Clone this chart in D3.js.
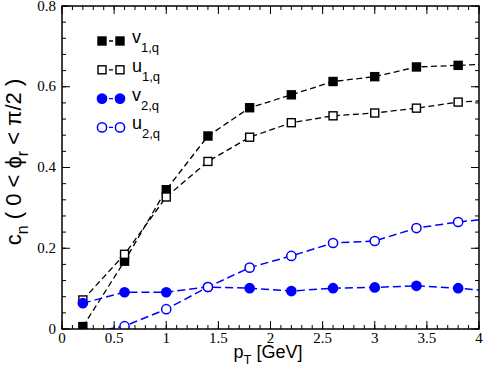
<!DOCTYPE html>
<html>
<head>
<meta charset="utf-8">
<script src="https://cdn.jsdelivr.net/npm/d3@7"></script>
<style>
  body { margin: 0; background: #fff; }
  svg { display: block; }
</style>
</head>
<body>
<div id="chart"></div>
<script>
// pT bins (last one sits outside the frame, so lines run off the right edge)
const pT = [0.2, 0.6, 1.0, 1.4, 1.8, 2.2, 2.6, 3.0, 3.4, 3.8, 4.2];

const v1q = [0.006, 0.168, 0.345, 0.478, 0.548, 0.580, 0.613, 0.625, 0.649, 0.653, 0.657];
const u1q = [0.072, 0.185, 0.327, 0.415, 0.475, 0.511, 0.528, 0.535, 0.547, 0.562, 0.568];
const v2q = [0.064, 0.091, 0.091, 0.104, 0.101, 0.094, 0.101, 0.103, 0.107, 0.101, 0.092];
const u2q = [-0.012, 0.007, 0.049, 0.104, 0.152, 0.181, 0.213, 0.218, 0.250, 0.265, 0.276];

const xTicks = [0, 0.5, 1, 1.5, 2, 2.5, 3, 3.5, 4];
const xTickLabels = ["0", "0.5", "1", "1.5", "2", "2.5", "3", "3.5", "4"];
const yTicks = [0, 0.2, 0.4, 0.6, 0.8];
const yTickLabels = ["0", "0.2", "0.4", "0.6", "0.8"];

const series = [
  { name: "v", sub: "1,q", values: v1q, color: "#000", shape: "square", filled: true },
  { name: "u", sub: "1,q", values: u1q, color: "#000", shape: "square", filled: false },
  { name: "v", sub: "2,q", values: v2q, color: "#0000ff", shape: "circle", filled: true },
  { name: "u", sub: "2,q", values: u2q, color: "#0000ff", shape: "circle", filled: false }
];

const width = 485, height = 374;
const margin = { top: 6, right: 6, bottom: 45, left: 62 };
const iw = width - margin.left - margin.right;
const ih = height - margin.top - margin.bottom;

const x = d3.scaleLinear().domain([0, 4]).range([0, iw]);
const y = d3.scaleLinear().domain([0, 0.8]).range([ih, 0]);

const svg = d3.select("#chart").append("svg")
  .attr("width", width).attr("height", height);

const g = svg.append("g").attr("transform", `translate(${margin.left},${margin.top})`);

svg.append("defs").append("clipPath").attr("id", "plotclip")
  .append("rect").attr("width", iw).attr("height", ih);

// ticks, inward, on all four sides
const xMinor = d3.range(0, 4.0001, 0.1);
const yMinor = d3.range(0, 0.8001, 0.04);

function tickLines(sel, vals, scale, len, horiz) {
  vals.forEach(v => {
    const p = scale(v);
    if (horiz) {
      sel.append("line").attr("x1", p).attr("x2", p).attr("y1", ih).attr("y2", ih - len);
      sel.append("line").attr("x1", p).attr("x2", p).attr("y1", 0).attr("y2", len);
    } else {
      sel.append("line").attr("y1", p).attr("y2", p).attr("x1", 0).attr("x2", len);
      sel.append("line").attr("y1", p).attr("y2", p).attr("x1", iw).attr("x2", iw - len);
    }
  });
}
const ticks = g.append("g").attr("stroke", "#000").attr("stroke-width", 1);
tickLines(ticks, xMinor, x, 4, true);
tickLines(ticks, xTicks, x, 8, true);
tickLines(ticks, yMinor, y, 4, false);
tickLines(ticks, yTicks, y, 8, false);

// tick labels
g.append("g").selectAll("text").data(xTicks).join("text")
  .attr("x", d => x(d)).attr("y", ih + 14)
  .attr("text-anchor", "middle")
  .style("font", "15px 'Liberation Serif', serif")
  .text((d, i) => xTickLabels[i]);

g.append("g").selectAll("text").data(yTicks).join("text")
  .attr("x", -6).attr("y", d => y(d) + 4.5)
  .attr("text-anchor", "end")
  .style("font", "15px 'Liberation Serif', serif")
  .text((d, i) => yTickLabels[i]);

// series
const line = d3.line().x((d, i) => x(pT[i])).y(d => y(d));
const plot = g.append("g").attr("clip-path", "url(#plotclip)");

function drawMarker(sel, s, cx, cy) {
  if (s.shape === "square") {
    sel.append("rect")
      .attr("x", cx - 4).attr("y", cy - 4).attr("width", 8).attr("height", 8)
      .attr("fill", s.filled ? s.color : "#fff")
      .attr("stroke", s.color).attr("stroke-width", 1.4);
  } else {
    sel.append("circle")
      .attr("cx", cx).attr("cy", cy).attr("r", 4.6)
      .attr("fill", s.filled ? s.color : "#fff")
      .attr("stroke", s.color).attr("stroke-width", 1.5);
  }
}

series.forEach(s => {
  plot.append("path").datum(s.values)
    .attr("d", line)
    .attr("fill", "none")
    .attr("stroke", s.color)
    .attr("stroke-width", s.shape === "square" ? 1.3 : 1.5)
    .attr("stroke-dasharray", s.shape === "square" ? "6,3.5" : "8,4");
  s.values.forEach((v, i) => drawMarker(plot, s, x(pT[i]), y(v)));
});

// frame
g.append("rect").attr("width", iw).attr("height", ih)
  .attr("fill", "none").attr("stroke", "#000").attr("stroke-width", 1.5);

// legend
const legend = svg.append("g");
series.forEach((s, i) => {
  const ly = 41 + i * 28.8;
  const row = legend.append("g");
  row.append("line")
    .attr("x1", 102).attr("x2", 120).attr("y1", ly).attr("y2", ly)
    .attr("stroke", s.color).attr("stroke-width", 1.3)
    .attr("stroke-dasharray", "4,3");
  drawMarker(row, s, 102, ly);
  drawMarker(row, s, 120, ly);
  const t = row.append("text")
    .attr("x", 132).attr("y", ly + 2)
    .style("font", "18px 'Liberation Sans', Arial, sans-serif")
    .attr("fill", "#000");
  t.append("tspan").text(s.name);
  t.append("tspan").attr("dy", 9).style("font-size", "13px").text(s.sub);
});

// axis titles
const xt = svg.append("text")
  .attr("x", 268).attr("y", 358)
  .attr("text-anchor", "middle")
  .style("font", "18px 'Liberation Sans', Arial, sans-serif");
xt.append("tspan").text("p");
xt.append("tspan").attr("dy", 6).style("font-size", "13px").text("T");
xt.append("tspan").attr("dy", -6).text(" [GeV]");

const yt = svg.append("text")
  .attr("transform", "translate(21,162) rotate(-90)")
  .attr("text-anchor", "middle")
  .style("font", "22px 'Liberation Sans', Arial, sans-serif");
yt.append("tspan").text("c");
yt.append("tspan").attr("dy", 7).style("font-size", "16px").text("n");
yt.append("tspan").attr("dy", -7).text("  ( 0 < \u03d5");
yt.append("tspan").attr("dy", 7).style("font-size", "16px").text("r");
yt.append("tspan").attr("dy", -7).text(" < \u03c0/2 )");
</script>
</body>
</html>
